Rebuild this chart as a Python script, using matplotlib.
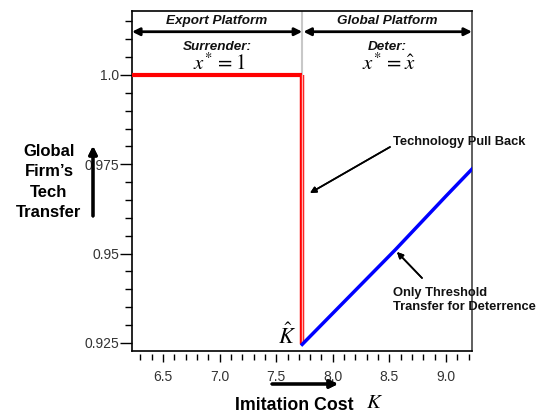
import matplotlib
matplotlib.use("Agg")
import matplotlib.pyplot as plt
from matplotlib.ticker import MultipleLocator

plt.rcParams['font.family'] = ['Liberation Sans', 'DejaVu Sans']
plt.rcParams['mathtext.fontset'] = 'stix'

# threshold imitation cost K-hat
k_hat = 7.73

# surrender region: full transfer x* = 1
K_red = [6.226, k_hat, k_hat]
T_red = [1.0, 1.0, 0.9246]

# deter region: threshold transfer
K_blue = [7.73, 8.0, 8.55, 9.0, 9.24]
T_blue = [0.9246, 0.9333, 0.9510, 0.9661, 0.9740]

x_ticks = [6.5, 7.0, 7.5, 8.0, 8.5, 9.0]
y_ticks = [0.925, 0.95, 0.975, 1.0]
y_ticklabels = ['0.925', '0.95', '0.975', '1.0']

W, H = 543, 416


def px(x, y):
    # pixel position -> figure fraction
    return x / W, 1 - y / H


fig = plt.figure(figsize=(W / 100, H / 100), dpi=100)
ax = fig.add_axes([132 / W, 1 - 351 / H, 340 / W, 340 / H])

ax.plot([k_hat, k_hat], [1.0, 1.0179], color='#c8c8c8', lw=1.5, zorder=1)
ax.plot(K_red[:2], T_red[:2], color='red', lw=3, solid_capstyle='butt', zorder=3)
ax.plot(K_red[1:], T_red[1:], color='red', lw=3.2, solid_capstyle='butt', zorder=3)
ax.plot(K_red[1:], T_red[1:], color='#ffb3b3', lw=1.0, zorder=3)
ax.plot(K_blue, T_blue, color='#0000ff', lw=2.5, zorder=4)

ax.set_xlim(6.226, 9.23)
ax.set_ylim(0.92275, 1.0179)
ax.set_xticks(x_ticks)
ax.set_xticklabels([f'{v:.1f}' for v in x_ticks])
ax.set_yticks(y_ticks)
ax.set_yticklabels(y_ticklabels)
ax.xaxis.set_minor_locator(MultipleLocator(0.1))
ax.yaxis.set_minor_locator(MultipleLocator(0.005))

ax.spines['bottom'].set_position(('outward', 2.5))
ax.spines['bottom'].set_visible(False)
ax.plot([0, 1], [0, 0], transform=ax.transAxes, color='black', lw=1.2,
        clip_on=False, zorder=5)
ax.spines['right'].set_color('#444444')
for s in ['left', 'top', 'right']:
    ax.spines[s].set_linewidth(1.2)

ax.tick_params(axis='y', which='major', direction='out', length=8.5, width=1,
               pad=0.5, labelsize=10, labelcolor='#333333')
ax.tick_params(axis='y', which='minor', direction='out', length=5, width=1)
ax.tick_params(axis='x', which='major', direction='out', length=6, width=1,
               pad=5, labelsize=10, labelcolor='#333333')
ax.tick_params(axis='x', which='minor', direction='out', length=4.3, width=1)

# platform arrows along the top
arr = dict(arrowstyle='<|-|>', color='black', lw=2, mutation_scale=11,
           shrinkA=0, shrinkB=0)
ax.annotate('', xy=(6.226, 1.0121), xytext=(k_hat, 1.0121), arrowprops=arr,
            annotation_clip=False)
ax.annotate('', xy=(k_hat + 0.01, 1.0121), xytext=(9.23, 1.0121),
            arrowprops=arr, annotation_clip=False)

bi = dict(fontsize=9.7, fontweight='bold', fontstyle='italic',
          ha='center', va='center', color='#111111')
fig.text(*px(217, 21), 'Export Platform', **bi)
fig.text(*px(387, 21), 'Global Platform', **bi)
fig.text(*px(217, 47), 'Surrender:', **bi)
fig.text(*px(387, 47), 'Deter:', **bi)
fig.text(*px(219, 63), r'$x^{*}\,=1$', fontsize=15, ha='center', va='center')
fig.text(*px(389, 63), r'$x^{*}\,=\hat{x}$', fontsize=15, ha='center', va='center')

# annotations inside the plot
b = dict(fontsize=9.3, fontweight='bold', ha='left', va='center', color='#111111')
fig.text(*px(393, 142), 'Technology Pull Back', **b)
fig.text(*px(393, 300), 'Only Threshold\nTransfer for Deterrence',
         linespacing=1.15, **b)
thin = dict(arrowstyle='-|>', color='black', lw=1.2, mutation_scale=9,
            shrinkA=0, shrinkB=0)
fig.add_artist(plt.annotate('', xy=px(310, 193), xytext=px(390, 147),
                            xycoords='figure fraction', arrowprops=thin))
fig.add_artist(plt.annotate('', xy=px(397, 252), xytext=px(422, 278),
                            xycoords='figure fraction', arrowprops=thin))
fig.text(*px(287, 336), r'$\hat{K}$', fontsize=16, ha='center', va='center')

# axis titles
fig.text(*px(49, 182), "Global\nFirm\u2019s\nTech\nTransfer", fontsize=12,
         fontweight='bold', ha='center', va='center', linespacing=1.45)
thick = dict(arrowstyle='-|>', color='black', lw=2.2, mutation_scale=12,
             shrinkA=0, shrinkB=0)
fig.add_artist(plt.annotate('', xy=px(93, 146), xytext=px(93, 216),
                            xycoords='figure fraction', arrowprops=thick))
fig.add_artist(plt.annotate('', xy=px(338, 384), xytext=px(272, 384),
                            xycoords='figure fraction', arrowprops=thick))
fig.text(*px(294, 405), 'Imitation Cost', fontsize=12.8, fontweight='bold',
         ha='center', va='center')
fig.text(*px(375, 403), r'$K$', fontsize=15, ha='center', va='center')

fig.savefig('out.png', dpi=100)
